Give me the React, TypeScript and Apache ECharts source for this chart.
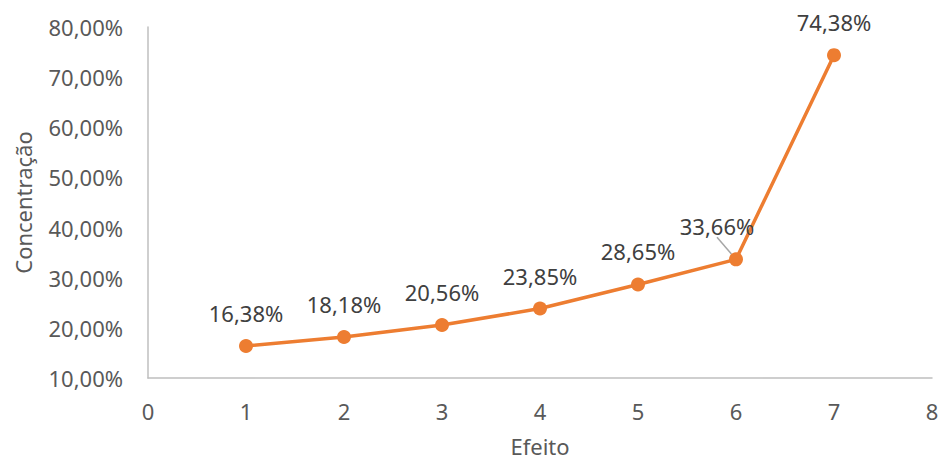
import React, { useEffect, useRef } from "react";
import * as echarts from "echarts";

const xValues = [1, 2, 3, 4, 5, 6, 7];
const concentracao = [16.38, 18.18, 20.56, 23.85, 28.65, 33.66, 74.38];
const xAxisName = "Efeito";
const yAxisName = "Concentração";

const fmt = (v: number) => v.toFixed(2).replace(".", ",") + "%";

export default function App() {
  const ref = useRef<HTMLDivElement>(null);
  useEffect(() => {
    document.body.style.margin = "0";
    const chart = echarts.init(ref.current!, null, { renderer: "svg" });
    const font = "'Noto Sans', sans-serif";
    chart.setOption({
      animation: false,
      backgroundColor: "#ffffff",
      grid: { left: 148, right: 9, top: 27, bottom: 85, outerBoundsMode: "none", containLabel: false },
      xAxis: {
        type: "value",
        min: 0,
        max: 8,
        interval: 1,
        name: xAxisName,
        nameLocation: "middle",
        nameGap: 57,
        nameTextStyle: { color: "#595959", fontSize: 22, fontFamily: font },
        axisLine: { show: true, lineStyle: { color: "#BFBFBF", width: 1.5 } },
        axisTick: { show: false },
        splitLine: { show: false },
        axisLabel: { color: "#595959", fontSize: 22, fontFamily: font, margin: 22 },
      },
      yAxis: {
        type: "value",
        min: 10,
        max: 80,
        interval: 10,
        name: yAxisName,
        nameLocation: "middle",
        nameGap: 114,
        nameTextStyle: { color: "#595959", fontSize: 22, fontFamily: font },
        axisLine: { show: true, lineStyle: { color: "#BFBFBF", width: 1.5 } },
        axisTick: { show: false },
        splitLine: { show: false },
        axisLabel: {
          color: "#595959",
          fontSize: 22,
          fontFamily: font,
          margin: 25,
          formatter: (v: number) => fmt(v),
        },
      },
      series: [
        {
          type: "line",
          data: xValues.map((x, i) =>
            i === 5
              ? {
                  value: [x, concentracao[i]],
                  labelLine: { show: true, lineStyle: { color: "#A6A6A6", width: 1.5 } },
                }
              : { value: [x, concentracao[i]] }
          ),
          symbol: "circle",
          symbolSize: 14,
          itemStyle: { color: "#ED7D31" },
          lineStyle: { color: "#ED7D31", width: 3.5 },
          label: {
            show: true,
            position: "top",
            distance: 15,
            color: "#404040",
            fontSize: 22,
            fontFamily: font,
            formatter: (p: any) => fmt(p.value[1]),
          },
          labelLine: { show: false },
          labelLayout: (p: any) => (p.dataIndex === 5 ? { dx: -19, dy: 0 } : {}),
        },
      ],
    });
    return () => chart.dispose();
  }, []);
  return <div ref={ref} style={{ width: 941, height: 463 }} />;
}
